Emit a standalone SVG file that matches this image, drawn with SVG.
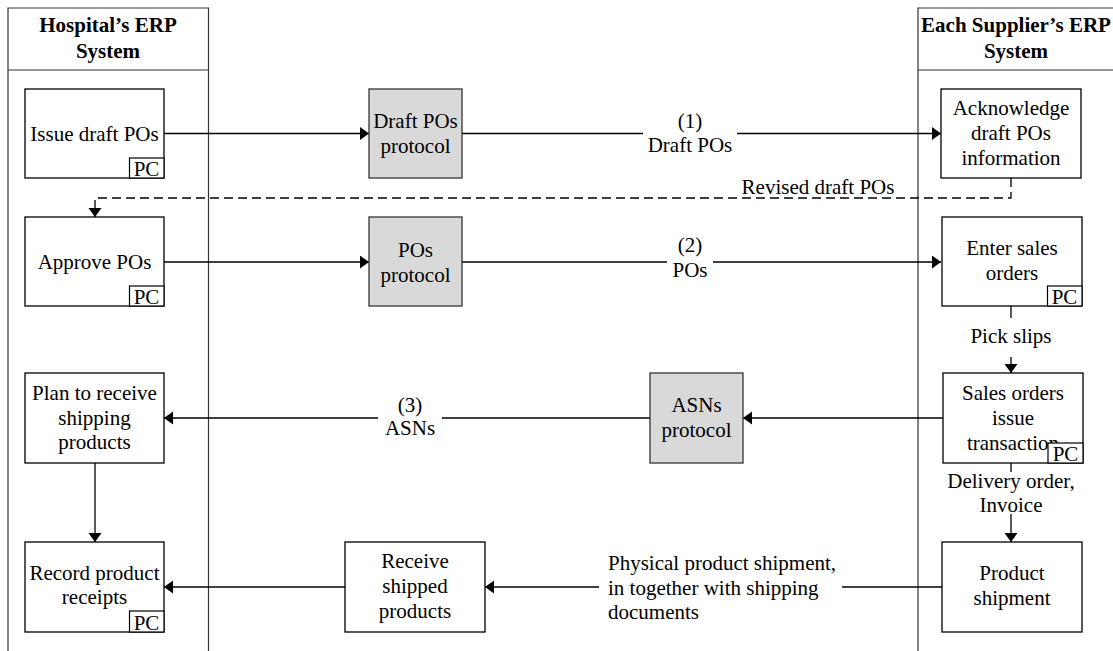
<svg xmlns="http://www.w3.org/2000/svg" width="1113" height="651" viewBox="0 0 1113 651">
  <defs>
    <marker id="arrow" markerUnits="userSpaceOnUse" markerWidth="10" markerHeight="14" refX="9" refY="6.5" orient="auto">
      <path d="M0,0 L9,6.5 L0,13 z" fill="#000"/>
    </marker>
    <style>
      text { font-family: "Liberation Serif", "Times New Roman", serif; font-size: 21px; fill: #000; text-anchor: middle; }
      .hdr { font-weight: bold; }
      .lane { fill: none; stroke: #333; stroke-width: 1.2; }
      .box { fill: #fff; stroke: #000; stroke-width: 1.3; }
      .proto { fill: #d9d9d9; stroke: #333; stroke-width: 1.3; }
      .pc { fill: #fff; stroke: #000; stroke-width: 1.2; }
      .edge { fill: none; stroke: #000; stroke-width: 1.3; }
      .dash { stroke-dasharray: 9 5; }
      .left { text-anchor: start; }
    </style>
  </defs>
  <rect width="1113" height="651" fill="#fff"/>

  <!-- swimlanes -->
  <g id="lane-hospital">
    <path class="lane" d="M8,652 V8 H208.5 V652 M8,70 H208.5"/>
    <text class="hdr" x="108" y="32">Hospital’s ERP</text>
    <text class="hdr" x="108" y="58">System</text>
  </g>
  <g id="lane-supplier">
    <path class="lane" d="M918,652 V8 H1114 M918,70 H1114"/>
    <text class="hdr" x="1016" y="32">Each Supplier’s ERP</text>
    <text class="hdr" x="1016" y="58">System</text>
  </g>

  <!-- connectors -->
  <g id="connectors">
    <path class="edge" d="M164,133.5 H369" marker-end="url(#arrow)"/>
    <path class="edge" d="M462,133.5 H643"/>
    <path class="edge" d="M737,133.5 H941" marker-end="url(#arrow)"/>
    <text x="690" y="128">(1)</text>
    <text x="690" y="152">Draft POs</text>

    <path class="edge dash" d="M1011,178 V198 H95 V217" marker-end="url(#arrow)"/>
    <text x="818" y="194">Revised draft POs</text>

    <path class="edge" d="M164,262 H369" marker-end="url(#arrow)"/>
    <path class="edge" d="M462,262 H667"/>
    <path class="edge" d="M713,262 H941" marker-end="url(#arrow)"/>
    <text x="690" y="252">(2)</text>
    <text x="690" y="277">POs</text>

    <path class="edge" d="M1011,306 V318"/>
    <path class="edge" d="M1011,357 V373" marker-end="url(#arrow)"/>
    <text x="1011" y="343">Pick slips</text>

    <path class="edge" d="M943,418 H743" marker-end="url(#arrow)"/>
    <path class="edge" d="M650,418 H442"/>
    <path class="edge" d="M378,418 H164" marker-end="url(#arrow)"/>
    <text x="410" y="412">(3)</text>
    <text x="410" y="435">ASNs</text>

    <path class="edge" d="M1011,463 V472"/>
    <path class="edge" d="M1011,514 V542" marker-end="url(#arrow)"/>
    <text x="1011" y="488">Delivery order,</text>
    <text x="1011" y="512">Invoice</text>

    <path class="edge" d="M95,463 V542" marker-end="url(#arrow)"/>

    <path class="edge" d="M943,587 H842"/>
    <path class="edge" d="M599,587 H485" marker-end="url(#arrow)"/>
    <text class="left" x="608" y="570">Physical product shipment,</text>
    <text class="left" x="608" y="595">in together with shipping</text>
    <text class="left" x="608" y="619">documents</text>

    <path class="edge" d="M345,587 H164" marker-end="url(#arrow)"/>
  </g>

  <!-- process nodes -->
  <g id="issue-draft-pos">
    <rect class="box" x="25" y="89" width="139" height="89"/>
    <text x="94.5" y="141">Issue draft POs</text>
    <rect class="pc" x="129.5" y="158" width="34.5" height="20"/>
    <text x="146.5" y="176">PC</text>
  </g>
  <g id="draft-pos-protocol">
    <rect class="proto" x="369" y="89" width="93" height="89"/>
    <text x="415.5" y="128">Draft POs</text>
    <text x="415.5" y="153">protocol</text>
  </g>
  <g id="acknowledge-draft-pos">
    <rect class="box" x="941" y="89" width="140" height="89"/>
    <text x="1011" y="115">Acknowledge</text>
    <text x="1011" y="140">draft POs</text>
    <text x="1011" y="165">information</text>
  </g>

  <g id="approve-pos">
    <rect class="box" x="25" y="217" width="139" height="89"/>
    <text x="94.5" y="269">Approve POs</text>
    <rect class="pc" x="129.5" y="286" width="34.5" height="20"/>
    <text x="146.5" y="304">PC</text>
  </g>
  <g id="pos-protocol">
    <rect class="proto" x="369" y="217" width="93" height="89"/>
    <text x="415.5" y="256.5">POs</text>
    <text x="415.5" y="281.5">protocol</text>
  </g>
  <g id="enter-sales-orders">
    <rect class="box" x="942" y="217" width="140" height="89"/>
    <text x="1012" y="255">Enter sales</text>
    <text x="1012" y="280">orders</text>
    <rect class="pc" x="1047.5" y="286" width="34.5" height="20"/>
    <text x="1064.5" y="304">PC</text>
  </g>

  <g id="plan-to-receive">
    <rect class="box" x="25" y="373" width="139" height="90"/>
    <text x="94.5" y="400">Plan to receive</text>
    <text x="94.5" y="425">shipping</text>
    <text x="94.5" y="449">products</text>
  </g>
  <g id="asns-protocol">
    <rect class="proto" x="650" y="373" width="93" height="90"/>
    <text x="696.5" y="411.5">ASNs</text>
    <text x="696.5" y="436.5">protocol</text>
  </g>
  <g id="sales-orders-issue">
    <rect class="box" x="943" y="373" width="140" height="90"/>
    <text x="1013" y="400">Sales orders</text>
    <text x="1013" y="425">issue</text>
    <text x="1013" y="450">transaction</text>
    <rect class="pc" x="1048" y="443" width="35" height="20"/>
    <text x="1065.5" y="461">PC</text>
  </g>

  <g id="record-product-receipts">
    <rect class="box" x="25" y="542" width="139" height="90"/>
    <text x="94.5" y="580">Record product</text>
    <text x="94.5" y="604">receipts</text>
    <rect class="pc" x="129.5" y="611" width="34.5" height="21"/>
    <text x="146.5" y="630">PC</text>
  </g>
  <g id="receive-shipped-products">
    <rect class="box" x="345" y="542" width="140" height="90"/>
    <text x="415" y="568">Receive</text>
    <text x="415" y="593">shipped</text>
    <text x="415" y="618">products</text>
  </g>
  <g id="product-shipment">
    <rect class="box" x="942" y="542" width="140" height="90"/>
    <text x="1012" y="580">Product</text>
    <text x="1012" y="605">shipment</text>
  </g>
</svg>
